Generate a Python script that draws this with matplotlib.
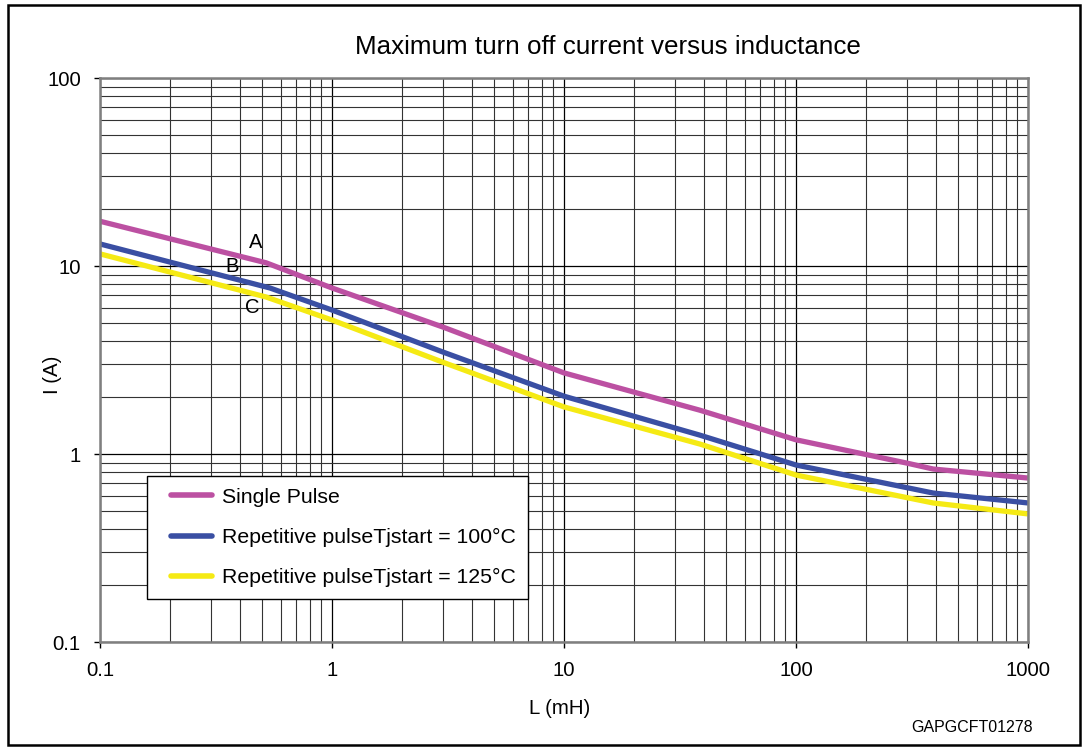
import numpy as np
import matplotlib.pyplot as plt
from matplotlib.ticker import FixedLocator, NullFormatter
from matplotlib.patches import Rectangle
from matplotlib.legend_handler import HandlerLine2D

plt.rcParams['font.family'] = ['Liberation Sans', 'DejaVu Sans']

# 读图得到的数据 (L in mH, I in A)
L_single = [0.1, 0.52, 1, 3, 10, 38.5, 100, 300, 390, 1000]
I_single = [17.3, 10.4, 7.64, 4.74, 2.70, 1.71, 1.19, 0.895, 0.832, 0.745]

L_rep100 = [0.1, 0.54, 1, 3, 10, 38.5, 100, 390, 1000]
I_rep100 = [13.1, 7.64, 5.83, 3.49, 2.03, 1.26, 0.874, 0.62, 0.549]

L_rep125 = [0.1, 0.52, 1, 3, 10, 38.5, 100, 390, 1000]
I_rep125 = [11.6, 6.84, 5.16, 3.08, 1.78, 1.13, 0.773, 0.549, 0.48]

labels = ['Single Pulse', 'Repetitive pulseTjstart = 100°C', 'Repetitive pulseTjstart = 125°C']
colors = ['#BC50A2', '#3A4FA3', '#F5EA14']

x_ticks = [0.1, 1, 10, 100, 1000]
x_tick_labels = ['0.1', '1', '10', '100', '1000']
y_ticks = [0.1, 1, 10, 100]
y_tick_labels = ['0.1', '1', '10', '100']

W, H = 1088, 751
fig = plt.figure(figsize=(W / 100, H / 100), dpi=100)
ax = fig.add_axes([100 / W, 1 - 642 / H, 928 / W, 564 / H])

ax.set_xscale('log')
ax.set_yscale('log')
ax.set_xlim(0.1, 1000)
ax.set_ylim(0.1, 100)

# 网格
minor_x = [m * 10.0 ** e for e in range(-1, 3) for m in range(2, 10)]
minor_y = [m * 10.0 ** e for e in range(-1, 2) for m in range(2, 10)]
ax.xaxis.set_major_locator(FixedLocator(x_ticks))
ax.yaxis.set_major_locator(FixedLocator(y_ticks))
ax.xaxis.set_minor_locator(FixedLocator(minor_x))
ax.yaxis.set_minor_locator(FixedLocator(minor_y))
ax.xaxis.set_minor_formatter(NullFormatter())
ax.yaxis.set_minor_formatter(NullFormatter())
ax.set_xticklabels(x_tick_labels)
ax.set_yticklabels(y_tick_labels)
ax.grid(True, which='major', color='black', linewidth=0.9)
ax.grid(True, which='minor', color='#333333', linewidth=0.8)
ax.set_axisbelow(True)
ax.tick_params(which='minor', length=0)
ax.tick_params(which='major', length=4.3, width=1, labelsize=14.7, pad=9.5, color='black')
for s in ax.spines.values():
    s.set_color('#7f7f7f')
    s.set_linewidth(1.8)

ax.plot(L_single, I_single, color=colors[0], lw=3.8, label=labels[0], solid_capstyle='butt')
ax.plot(L_rep100, I_rep100, color=colors[1], lw=3.8, label=labels[1], solid_capstyle='butt')
ax.plot(L_rep125, I_rep125, color=colors[2], lw=3.8, label=labels[2], solid_capstyle='butt')

ax.text(0.47, 13.4, 'A', fontsize=14.5, ha='center', va='center')
ax.text(0.371, 10.0, 'B', fontsize=14.5, ha='center', va='center')
ax.text(0.452, 5.98, 'C', fontsize=14.5, ha='center', va='center')

# 图例线往右挪一点
hl = HandlerLine2D(xpad=0.57)
leg = ax.legend(loc='lower left', bbox_to_anchor=(47 / 928, 43 / 564, 381 / 928, 128 / 564),
                mode='expand', fontsize=15.3, fancybox=False, framealpha=1, edgecolor='black',
                handlelength=2.5, handletextpad=0.47, labelspacing=1.0, borderaxespad=0,
                borderpad=0.55, handler_map={plt.Line2D: hl})
leg.get_frame().set_linewidth(1.0)
for h in leg.get_lines():
    h.set_linewidth(4)
    h.set_solid_capstyle('round')

fig.text(560 / W, 1 - 708 / H, 'L (mH)', fontsize=14.7, ha='center', va='center')
fig.text(52 / W, 1 - 375 / H, 'I (A)', fontsize=14.7, ha='center', va='center', rotation=90)

fig.text(608 / W, 1 - 47 / H, 'Maximum turn off current versus inductance', fontsize=18.7,
         ha='center', va='center')
fig.text(972 / W, 1 - 728 / H, 'GAPGCFT01278', fontsize=11.5, ha='center', va='center')

fig.patches.append(Rectangle((8 / W, 1 - 745 / H), 1072 / W, 740 / H, transform=fig.transFigure,
                             fill=False, edgecolor='black', linewidth=1.8))

fig.savefig('out.png', dpi=100)
